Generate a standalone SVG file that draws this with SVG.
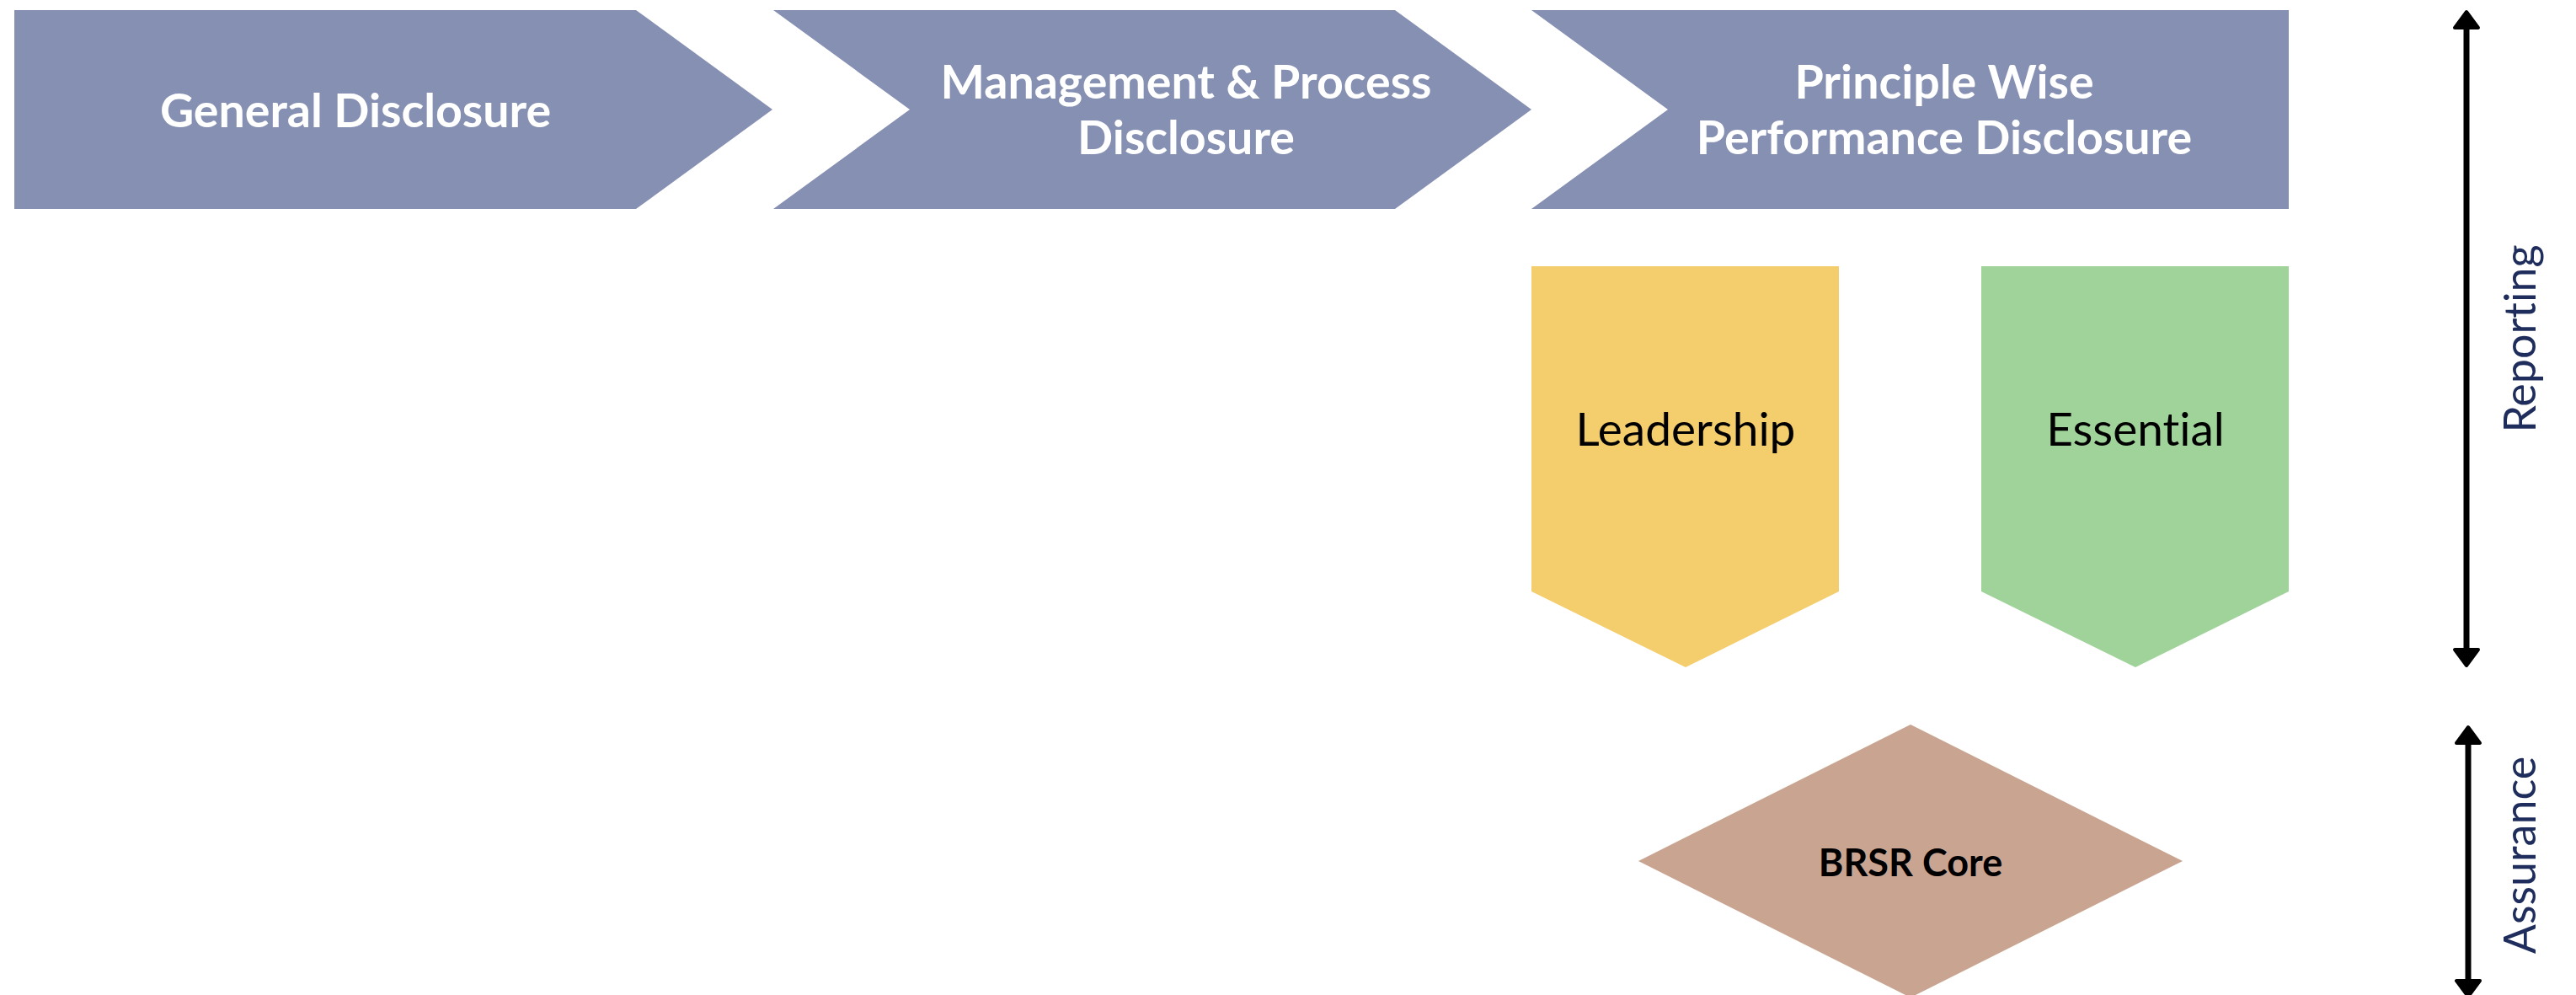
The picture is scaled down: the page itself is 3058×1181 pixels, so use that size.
<svg xmlns="http://www.w3.org/2000/svg" width="3058" height="1181" viewBox="0 0 3058 1181">
<defs>
<style>
text{font-variant-ligatures:none;font-feature-settings:"liga" 0}
.chev{fill:#8690B3}
.hdr{font-family:Lato,"Liberation Sans",sans-serif;font-weight:700;font-size:55.5px;fill:#ffffff;text-anchor:middle}
.sub{font-family:Lato,"Liberation Sans",sans-serif;font-weight:400;font-size:55px;fill:#000000;text-anchor:middle}
.core{font-family:Lato,"Liberation Sans",sans-serif;font-weight:700;font-size:45px;fill:#000000;text-anchor:middle}
.side{font-family:Lato,"Liberation Sans",sans-serif;font-weight:400;font-size:52px;fill:#1F2D5C;text-anchor:middle}
.axis{stroke:#000000;stroke-width:7;fill:none}
</style>
<marker id="ah" markerUnits="userSpaceOnUse" viewBox="-3 -18 26 36" markerWidth="26" markerHeight="36" refX="0" refY="0" orient="auto-start-reverse">
<path d="M0,-14 L19,0 L0,14 Z" fill="#000000" stroke="#000000" stroke-width="4" stroke-linejoin="round"/>
</marker>
</defs>
<rect width="3058" height="1181" fill="#ffffff"/>
<g id="general-disclosure">
<polygon class="chev" points="17,12 755,12 917,130 755,248 17,248"/>
<text class="hdr" x="422" y="151">General Disclosure</text>
</g>
<g id="management-process-disclosure">
<polygon class="chev" points="918,12 1656,12 1818,130 1656,248 918,248 1080,130"/>
<text class="hdr" x="1408" y="117">Management &amp; Process</text>
<text class="hdr" x="1408" y="183">Disclosure</text>
</g>
<g id="principle-wise-performance-disclosure">
<polygon class="chev" points="1818,12 2717,12 2717,248 1818,248 1980,130"/>
<text class="hdr" x="2308" y="117">Principle Wise</text>
<text class="hdr" x="2308" y="183">Performance Disclosure</text>
</g>
<g id="leadership">
<polygon points="1818,316 2183,316 2183,702 2001,792 1818,702" fill="#F4CD6C"/>
<text class="sub" x="2001" y="529">Leadership</text>
</g>
<g id="essential">
<polygon points="2352,316 2717,316 2717,702 2535,792 2352,702" fill="#A0D39A"/>
<text class="sub" x="2535" y="529">Essential</text>
</g>
<g id="brsr-core">
<polygon points="2268,860 2591,1022 2268,1184 1945,1022" fill="#C9A491"/>
<text class="core" x="2268" y="1040">BRSR Core</text>
</g>
<g id="connectors">
<line class="axis" x1="2928" y1="33" x2="2928" y2="771" marker-start="url(#ah)" marker-end="url(#ah)"/>
<line class="axis" x1="2930" y1="882" x2="2930" y2="1164" marker-start="url(#ah)" marker-end="url(#ah)"/>
</g>
<g id="reporting-label">
<text class="side" transform="translate(3010,402) rotate(-90)">Reporting</text>
</g>
<g id="assurance-label">
<text class="side" transform="translate(3010,1015) rotate(-90)">Assurance</text>
</g>
</svg>
